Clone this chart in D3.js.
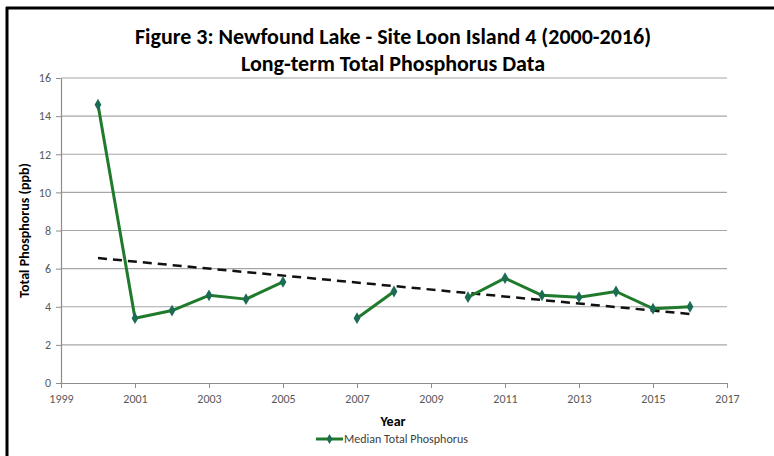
<!DOCTYPE html>
<html><head><meta charset="utf-8">
<script src="https://cdn.jsdelivr.net/npm/d3@7"></script>
<style>body{margin:0;background:#fff}svg{display:block}text{font-family:Carlito,"Open Sans",sans-serif}</style>
</head><body><svg id="c" width="774" height="456"></svg>
<script>
const years = [2000,2001,2002,2003,2004,2005,2006,2007,2008,2009,2010,2011,2012,2013,2014,2015,2016];
const medianTP = [14.6,3.4,3.8,4.6,4.4,5.3,null,3.4,4.8,null,4.5,5.5,4.6,4.5,4.8,3.9,4.0];
const xTicks = [1999,2001,2003,2005,2007,2009,2011,2013,2015,2017];
const yTicks = [0,2,4,6,8,10,12,14,16];
const titleLines = ["Figure 3: Newfound Lake - Site Loon Island 4 (2000-2016)","Long-term Total Phosphorus Data"];

const svg = d3.select("#c");
svg.append("rect").attr("width",774).attr("height",456).attr("fill","#fff");
svg.append("line").attr("x1",7).attr("x2",7).attr("y1",7).attr("y2",456).attr("stroke","#000").attr("stroke-width",3);
svg.append("line").attr("x1",6).attr("x2",774).attr("y1",8).attr("y2",8).attr("stroke","#000").attr("stroke-width",3);

const x = d3.scaleLinear().domain([1999,2017]).range([61,727]);
const y = d3.scaleLinear().domain([0,16]).range([383,78]);

svg.append("g").selectAll("line").data(yTicks.filter(d=>d>0)).join("line")
  .attr("x1",x(1999)).attr("x2",x(2017)).attr("y1",d=>y(d)).attr("y2",d=>y(d))
  .attr("stroke","#a6a6a6").attr("stroke-width",1.2);

const gx = svg.append("g").attr("transform",`translate(0,${y(0)})`)
  .call(d3.axisBottom(x).tickValues(xTicks).tickFormat(d3.format("d")).tickSize(5).tickSizeOuter(0));
const gy = svg.append("g").attr("transform",`translate(${x(1999)},0)`)
  .call(d3.axisLeft(y).tickValues(yTicks).tickSize(5).tickSizeOuter(0));
[gx,gy].forEach(g=>{
  g.select(".domain").attr("stroke","#8c8c8c").attr("stroke-width",1.2);
  g.selectAll(".tick line").attr("stroke","#8c8c8c");
  g.selectAll(".tick text").attr("fill","#595959").style("font-size","12px").style("font-family","Carlito,'Open Sans',sans-serif");
});
gx.selectAll(".tick text").attr("y",11).attr("dy","0.71em");
gy.selectAll(".tick text").attr("x",-10);

const pts = years.map((yr,i)=>[yr,medianTP[i]]).filter(p=>p[1]!=null);
const mx = d3.mean(pts,p=>p[0]), my = d3.mean(pts,p=>p[1]);
const slope = d3.sum(pts,p=>(p[0]-mx)*(p[1]-my))/d3.sum(pts,p=>(p[0]-mx)**2);
const f = t=>my+slope*(t-mx);
const x0 = d3.min(pts,p=>p[0]), x1 = d3.max(pts,p=>p[0]);
svg.append("line").attr("x1",x(x0)).attr("y1",y(f(x0))).attr("x2",x(x1)).attr("y2",y(f(x1)))
  .attr("stroke","#111").attr("stroke-width",2.5).attr("stroke-dasharray","9,6");

const data = years.map((yr,i)=>({yr,v:medianTP[i]}));
const line = d3.line().defined(d=>d.v!=null).x(d=>x(d.yr)).y(d=>y(d.v));
svg.append("path").datum(data).attr("d",line).attr("fill","none").attr("stroke","#1f7a2c").attr("stroke-width",3).attr("stroke-linejoin","round");
const diamond = d3.symbol().type(d3.symbolDiamond).size(40);
svg.append("g").selectAll("path").data(data.filter(d=>d.v!=null)).join("path")
  .attr("d",diamond).attr("transform",d=>`translate(${x(d.yr)},${y(d.v)})`).attr("fill","#1c6b55");

svg.append("g").selectAll("text").data(titleLines).join("text")
  .attr("x",393).attr("y",(d,i)=>44+i*27).attr("text-anchor","middle")
  .style("font-size","22px").style("font-weight","bold").attr("fill","#000").text(d=>d);

svg.append("text").attr("x",393).attr("y",426).attr("text-anchor","middle")
  .style("font-size","14px").style("font-weight","bold").text("Year");
svg.append("text").attr("transform",`translate(29,${y(8)}) rotate(-90)`).attr("text-anchor","middle")
  .style("font-size","14px").style("font-weight","bold").text("Total Phosphorus (ppb)");

const lg = svg.append("g").attr("transform","translate(316,439)");
lg.append("line").attr("x1",0).attr("x2",27).attr("y1",0).attr("y2",0).attr("stroke","#1f7a2c").attr("stroke-width",3);
lg.append("path").attr("d",d3.symbol().type(d3.symbolDiamond).size(30)).attr("transform","translate(13.5,0)").attr("fill","#1c6b55");
lg.append("text").attr("x",28).attr("y",4).style("font-size","12px").attr("fill","#404040").text("Median Total Phosphorus");
</script></body></html>
